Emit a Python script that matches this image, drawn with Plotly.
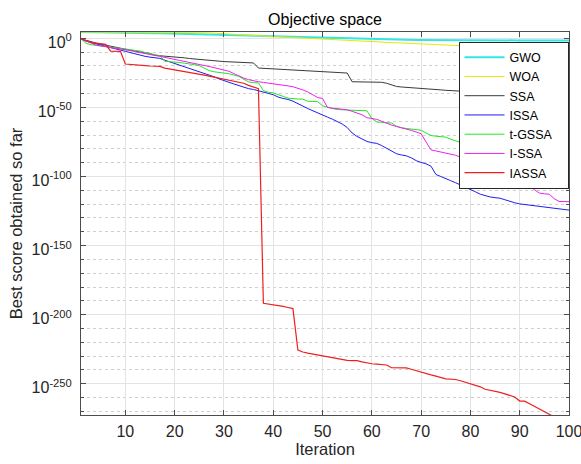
import plotly.graph_objects as go

iterations = list(range(1, 101))

# log10 of best score per iteration
gwo_exp = [4.6, 4.58, 4.55, 4.5, 4.45, 4.4, 4.35, 4.28, 4.2, 4.12,
           4.05, 4.0, 3.95, 3.9, 3.82, 3.74, 3.65, 3.55, 3.45, 3.35,
           3.25, 3.15, 3.05, 2.95, 2.85, 2.75, 2.65, 2.55, 2.45, 2.35,
           2.25, 2.12, 2.0, 1.9, 1.8, 1.7, 1.6, 1.5, 1.4, 1.3,
           1.2, 1.1, 1.0, 0.9, 0.8, 0.7, 0.6, 0.5, 0.4, 0.3,
           0.22, 0.14, 0.06, -0.02, -0.1, -0.18, -0.26, -0.34, -0.42, -0.5,
           -0.58, -0.66, -0.74, -0.82, -0.9, -0.96, -1.0, -1.05, -1.1, -1.15,
           -1.19, -1.23, -1.27, -1.3, -1.33, -1.35, -1.37, -1.38, -1.39, -1.4,
           -1.41, -1.42, -1.43, -1.44, -1.45, -1.46, -1.47, -1.48, -1.49, -1.5,
           -1.51, -1.52, -1.53, -1.54, -1.55, -1.56, -1.57, -1.58, -1.59, -1.6]

woa_exp = [4.6, 4.6, 4.6, 4.6, 4.59, 4.59, 4.58, 4.58, 4.57, 4.57,
           4.56, 4.55, 4.54, 4.53, 4.52, 4.5, 4.48, 4.46, 4.44, 4.41,
           4.38, 4.34, 4.3, 4.25, 4.18, 4.1, 4.0, 3.85, 3.65, 3.4,
           3.15, 2.9, 2.7, 2.5, 2.3, 2.1, 1.9, 1.7, 1.5, 1.3,
           1.1, 0.9, 0.7, 0.5, 0.3, 0.1, -0.1, -0.25, -0.4, -0.55,
           -0.7, -0.85, -1.0, -1.2, -1.4, -1.6, -1.8, -2.0, -2.2, -2.4,
           -2.6, -2.75, -2.9, -3.05, -3.2, -3.35, -3.55, -3.75, -3.95, -4.1,
           -4.25, -4.4, -4.55, -4.7, -4.85, -5.0, -5.2, -5.4, -5.55, -5.7,
           -5.85, -6.0, -6.15, -6.3, -6.45, -6.6, -6.75, -6.9, -7.05, -7.2,
           -7.35, -7.5, -7.7, -7.9, -8.1, -8.3, -8.55, -8.8, -9.2, -9.6]

ssa_exp = [-0.4, -1.5, -2.5, -3.3, -4.2, -5.0, -5.8, -6.6, -7.4, -8.2,
           -8.7, -9.3, -9.9, -10.5, -11.0, -12.3, -12.6, -12.8, -12.9, -13.0,
           -13.6, -14.1, -14.6, -15.0, -15.3, -15.7, -15.9, -16.2, -16.5, -16.8,
           -17.0, -17.2, -17.4, -17.6, -17.7, -17.8, -21.5, -21.7, -21.9, -22.1,
           -22.3, -22.5, -22.7, -22.9, -23.1, -23.3, -23.5, -23.7, -23.9, -24.1,
           -24.3, -24.5, -24.7, -24.9, -25.1, -31.4, -31.5, -31.5, -31.6, -31.6,
           -31.7, -31.8, -32.5, -33.8, -34.8, -35.2, -35.4, -35.6, -35.8, -36.1,
           -36.4, -36.7, -37.0, -37.3, -37.6, -37.8, -38.0, -38.2, -38.4, -38.6,
           -38.8, -39.0, -39.2, -39.4, -39.6, -39.8, -40.0, -40.2, -40.4, -44.2,
           -44.3, -44.4, -44.5, -44.6, -44.7, -44.8, -44.8, -44.9, -44.9, -45.0]

issa_exp = [-0.4, -2.0, -3.0, -4.0, -4.8, -5.8, -6.7, -7.5, -8.5, -9.4,
            -10.3, -11.5, -12.3, -13.0, -13.6, -14.0, -14.5, -15.8, -17.0, -17.8,
            -19.0, -20.6, -21.8, -23.0, -24.2, -25.4, -26.4, -27.8, -29.3, -30.8,
            -31.8, -33.0, -34.3, -35.5, -36.4, -37.0, -37.8, -38.8, -39.8, -40.8,
            -42.5, -43.5, -44.2, -45.5, -47.0, -49.0, -50.8, -52.5, -54.2, -55.8,
            -57.0, -58.5, -60.3, -62.0, -64.5, -68.5, -71.0, -73.0, -74.6, -75.5,
            -76.0, -77.6, -79.5, -81.5, -83.5, -84.4, -85.0, -86.5, -88.5, -89.8,
            -90.8, -92.5, -98.5, -100.0, -101.8, -103.0, -104.5, -106.0, -108.0, -109.5,
            -111.0, -112.8, -114.0, -114.8, -115.3, -115.7, -116.8, -118.0, -119.0, -119.8,
            -120.3, -120.8, -121.2, -121.7, -122.2, -122.7, -123.1, -123.5, -123.9, -124.3]

tgssa_exp = [-0.4, -3.5, -4.6, -5.0, -5.3, -5.7, -6.2, -6.7, -7.2, -7.7,
             -8.2, -8.7, -9.2, -10.3, -11.2, -12.0, -12.5, -16.6, -16.8, -17.1,
             -17.5, -18.0, -18.4, -19.0, -19.8, -21.5, -23.3, -24.2, -24.6, -25.0,
             -25.6, -26.5, -27.5, -29.5, -31.5, -32.0, -32.3, -37.8, -39.0, -39.5,
             -40.5, -42.0, -43.3, -43.8, -43.9, -44.0, -45.5, -45.7, -45.8, -48.8,
             -50.0, -50.8, -51.5, -51.8, -52.0, -52.1, -52.2, -52.3, -52.4, -58.0,
             -60.5, -60.8, -61.0, -61.3, -63.5, -64.7, -65.2, -65.6, -66.0, -66.5,
             -68.5, -70.3, -70.8, -71.2, -71.5, -73.0, -74.0, -75.0, -76.2, -77.5,
             -79.0, -80.0, -81.0, -82.5, -84.0, -85.0, -86.3, -87.5, -88.5, -89.5,
             -90.5, -91.5, -92.5, -93.3, -94.2, -95.3, -96.2, -97.6, -98.8, -99.5]

i_ssa_exp = [-0.4, -2.0, -3.5, -4.8, -5.5, -6.0, -6.5, -7.1, -7.7, -8.2,
             -8.9, -9.6, -10.4, -11.1, -11.8, -12.4, -13.0, -13.7, -14.4, -15.1,
             -15.8, -16.5, -17.2, -18.0, -18.8, -19.6, -20.4, -21.2, -22.0, -22.7,
             -23.8, -25.5, -27.2, -28.7, -29.9, -30.8, -31.4, -31.9, -32.3, -32.7,
             -33.2, -33.8, -34.4, -35.0, -36.0, -37.3, -38.8, -40.7, -42.8, -43.5,
             -50.0, -50.5, -51.0, -51.4, -51.7, -52.8, -54.0, -55.3, -57.4, -57.9,
             -58.6, -60.0, -61.5, -62.8, -63.8, -64.6, -65.5, -66.6, -67.8, -69.0,
             -75.0, -80.7, -81.5, -82.3, -83.0, -83.8, -84.6, -86.0, -87.5, -89.0,
             -90.5, -92.0, -93.5, -95.0, -96.5, -98.0, -99.5, -101.0, -102.4, -103.8,
             -105.3, -106.8, -109.5, -112.0, -112.5, -112.8, -116.0, -118.1, -118.1, -118.2]

iassa_exp = [-0.4, -1.8, -2.8, -3.5, -3.9, -4.3, -9.2, -9.3, -9.4, -18.6,
             -19.0, -19.3, -19.5, -19.7, -20.0, -20.2, -20.3, -21.5, -22.1, -22.7,
             -23.3, -23.7, -24.3, -25.1, -25.9, -26.6, -27.3, -28.0, -28.8, -29.4,
             -30.1, -30.8, -31.5, -32.5, -34.0, -35.5, -36.5, -191.7, -192.2, -192.7,
             -193.3, -194.0, -194.8, -195.6, -225.6, -227.0, -227.8, -228.5, -229.2, -229.8,
             -230.5, -231.2, -232.0, -232.7, -233.0, -233.2, -233.3, -234.2, -235.0, -235.5,
             -235.8, -236.2, -236.4, -238.4, -238.4, -238.4, -238.5, -239.5, -240.6, -241.8,
             -242.7, -243.6, -244.5, -245.5, -246.4, -246.7, -246.9, -247.8, -248.8, -249.7,
             -251.0, -252.2, -254.0, -254.6, -255.2, -256.2, -257.3, -258.5, -259.6, -262.5,
             -262.6, -264.5, -266.5, -268.5, -270.5, -272.2, -274.0, -275.5, -277.0, -278.5]

series_names = ["GWO", "WOA", "SSA", "ISSA", "t-GSSA", "I-SSA", "IASSA"]
series_exps = [gwo_exp, woa_exp, ssa_exp, issa_exp, tgssa_exp, i_ssa_exp, iassa_exp]
series_colors = ["#33E6E6", "#E8E800", "#3A3A3A", "#1E1EF0", "#22E622", "#F020F0", "#F01E1E"]
series_widths = [2.0, 1.0, 1.0, 1.0, 1.0, 1.0, 1.2]

y_major_exps = [0, -50, -100, -150, -200, -250]
y_minor_exps = [e for e in range(0, -271, -10) if e % 50 != 0]
x_ticks = [10, 20, 30, 40, 50, 60, 70, 80, 90, 100]

FONT = "Liberation Sans, Arial, Helvetica, sans-serif"
PAD = "\u00a0\u00a0\u00a0"  # right padding inside the legend box

fig = go.Figure()
for name, exps, col, w in zip(series_names, series_exps, series_colors, series_widths):
    fig.add_trace(go.Scatter(
        x=iterations, y=[10.0 ** e for e in exps], mode="lines", name=name + PAD,
        line=dict(color=col, width=w)))

axis_line = "#4d4d4d"
fig.update_layout(
    width=581, height=464,
    margin=dict(l=81, r=12, t=32, b=49),
    paper_bgcolor="white", plot_bgcolor="white",
    font=dict(family=FONT, size=16, color="#262626"),
    title=dict(text="Objective space", x=0.5, xref="paper", y=1 - 19 / 464,
               yanchor="middle", xanchor="center",
               font=dict(family=FONT, size=16, color="#000000")),
    showlegend=True,
    legend=dict(x=0.999, y=0.975, xanchor="right", yanchor="top",
                bgcolor="white", bordercolor="#262626", borderwidth=1,
                font=dict(family=FONT, size=12.5, color="#000000"),
                tracegroupgap=0, itemwidth=40),
)
fig.update_xaxes(
    range=[1, 100], tickvals=x_ticks, ticktext=[str(v) for v in x_ticks],
    showline=True, linecolor=axis_line, linewidth=1, mirror="allticks",
    ticks="inside", ticklen=5, tickcolor=axis_line,
    showgrid=True, gridcolor="#e3e3e3", gridwidth=1, zeroline=False,
    tickfont=dict(family=FONT, size=16, color="#262626"),
    ticklabeloverflow="allow", ticklabelstandoff=2,
    title=dict(text="Iteration", standoff=2, font=dict(family=FONT, size=16.5, color="#262626")),
    automargin=False,
)
fig.update_yaxes(
    type="log", range=[-272.6, 4.6],
    tickvals=[10.0 ** e for e in y_major_exps],
    ticktext=["10<sup>%d</sup>" % e for e in y_major_exps],
    showline=True, linecolor=axis_line, linewidth=1, mirror="allticks",
    ticks="inside", ticklen=5, tickcolor=axis_line,
    showgrid=True, gridcolor="#e3e3e3", gridwidth=1, zeroline=False,
    minor=dict(tickvals=[10.0 ** e for e in y_minor_exps], ticks="inside", ticklen=3,
               tickcolor=axis_line, showgrid=True, gridcolor="#cfcfcf", griddash="dot",
               gridwidth=1),
    tickfont=dict(family=FONT, size=16, color="#262626"),
    ticklabeloverflow="allow", ticklabelstandoff=5, ticklabelshift=4,
    title=dict(text="Best score obtained so far", standoff=4,
               font=dict(family=FONT, size=16.5, color="#262626")),
    automargin=False,
)

fig.write_html("out.html", config={"displayModeBar": False},
               post_script="document.body.style.margin='0';")
